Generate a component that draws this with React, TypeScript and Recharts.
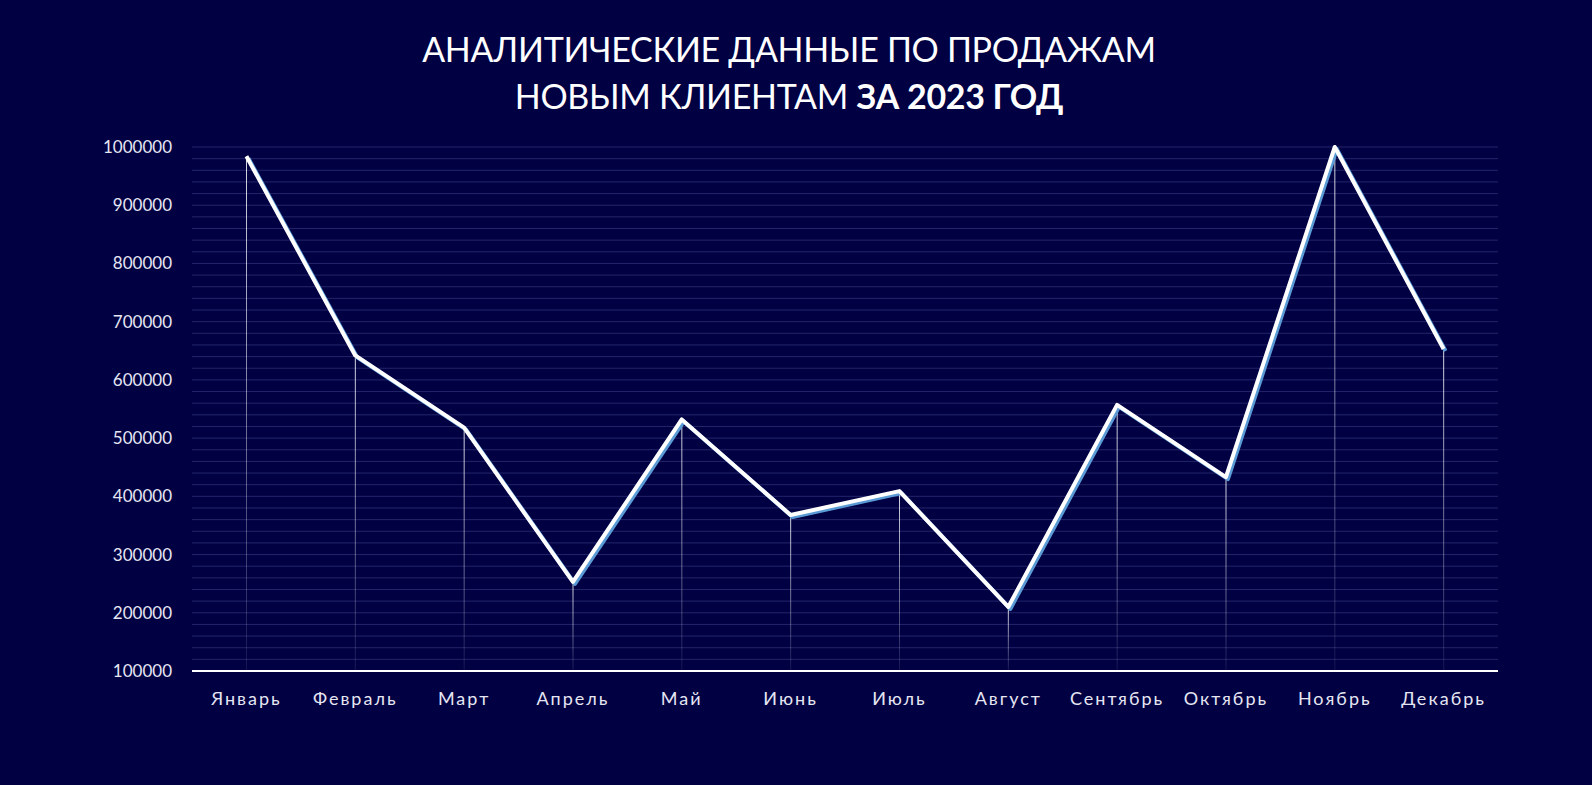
import React from "react";
import { ComposedChart, Line, Bar, XAxis, YAxis, CartesianGrid } from "recharts";

const months = [
  "Январь", "Февраль", "Март", "Апрель", "Май", "Июнь",
  "Июль", "Август", "Сентябрь", "Октябрь", "Ноябрь", "Декабрь"
];
const sales = [984000, 642000, 518000, 253000, 532000, 368000, 409000, 210000, 557000, 433000, 1000000, 653000];
const majorTicks = [100000, 200000, 300000, 400000, 500000, 600000, 700000, 800000, 900000, 1000000];

// minor grid every 20000 between the labelled ticks
const gridTicks: number[] = [];
for (let v = 100000; v <= 1000000; v += 20000) gridTicks.push(v);

const data = months.map((month, i) => ({ month, sales: sales[i] }));

const BG = "#000043";
const FONT = "Lato, 'Open Sans', sans-serif";

function YTick(props: any) {
  const { x, y, payload } = props;
  if (!majorTicks.includes(payload.value)) return null;
  return (
    <text x={x} y={y} dy={6} textAnchor="end" fill="#e6e6f2" fontSize={17} fontFamily={FONT}>
      {payload.value}
    </text>
  );
}

export default function App() {
  return (
    <div style={{ position: "relative", width: 1592, height: 785, background: BG, fontFamily: FONT }}>
      <style>{`body{margin:0;} .sales-line .recharts-line-curve{filter:drop-shadow(2px 2px 0 #5b9bd5);}`}</style>
      <div
        style={{
          position: "absolute",
          top: 25,
          left: 0,
          width: 1578,
          textAlign: "center",
          color: "#ffffff",
          fontSize: 34,
          letterSpacing: -0.3,
          lineHeight: "47px"
        }}
      >
        <div>АНАЛИТИЧЕСКИЕ ДАННЫЕ ПО ПРОДАЖАМ</div>
        <div>
          НОВЫМ КЛИЕНТАМ <b>ЗА 2023 ГОД</b>
        </div>
      </div>
      <ComposedChart
        width={1592}
        height={785}
        data={data}
        margin={{ top: 147, right: 94, bottom: 84, left: 112 }}
      >
        <defs>
          <linearGradient id="dropGrad" x1="0" y1="0" x2="0" y2="1">
            <stop offset="0%" stopColor="#ffffff" stopOpacity={0.85} />
            <stop offset="100%" stopColor="#ffffff" stopOpacity={0.08} />
          </linearGradient>
        </defs>
        <CartesianGrid vertical={false} stroke="#24246a" strokeWidth={1} />
        <XAxis
          dataKey="month"
          axisLine={{ stroke: "#ffffff", strokeWidth: 2 }}
          tickLine={false}
          tickMargin={15}
          height={30}
          tick={{ fill: "#e6e6f2", fontSize: 18, fontFamily: FONT, letterSpacing: 2 }}
        />
        <YAxis
          type="number"
          domain={[100000, 1000000]}
          ticks={gridTicks}
          interval={0}
          width={80}
          axisLine={false}
          tickLine={false}
          tickMargin={14}
          tick={<YTick />}
        />
        <Bar dataKey="sales" barSize={1} fill="url(#dropGrad)" isAnimationActive={false} />
        <Line
          className="sales-line"
          type="linear"
          dataKey="sales"
          stroke="#ffffff"
          strokeWidth={4}
          strokeLinejoin="round"
          dot={false}
          activeDot={false}
          isAnimationActive={false}
        />
      </ComposedChart>
    </div>
  );
}
